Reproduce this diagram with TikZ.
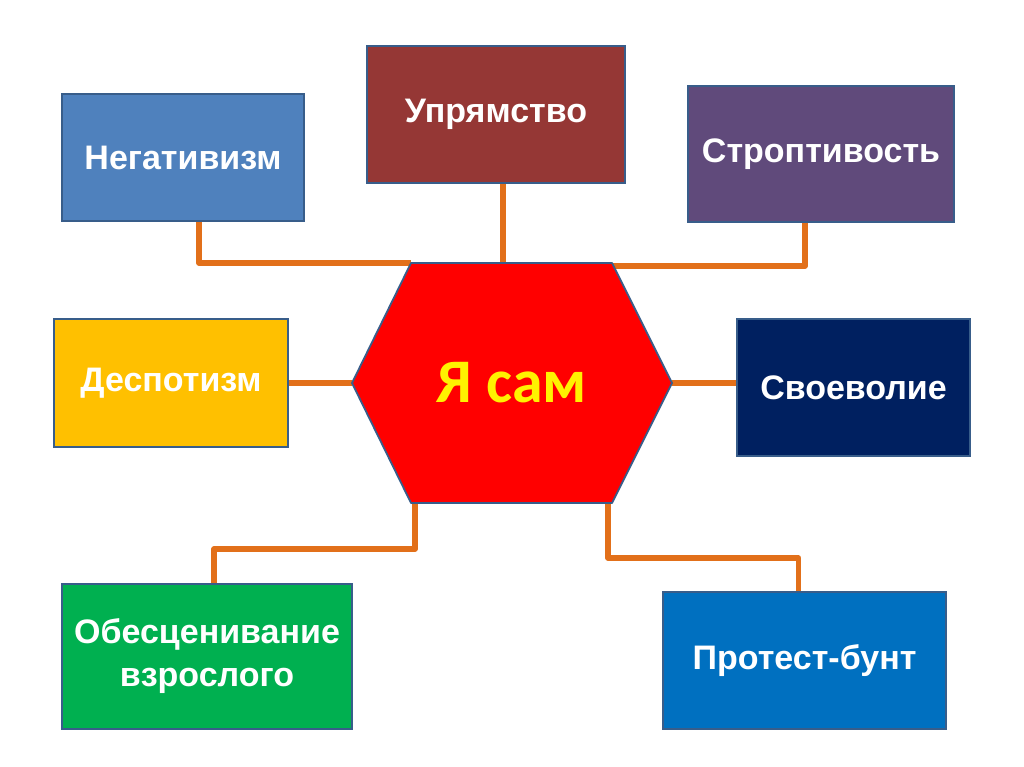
\documentclass[tikz,border=0pt]{standalone}
\usepackage{fontspec}
\setmainfont{Liberation Sans}
\newfontfamily\hexfont{Carlito}
\definecolor{negcol}{HTML}{4F81BD}
\definecolor{uprcol}{HTML}{953735}
\definecolor{stropcol}{HTML}{604A7B}
\definecolor{despcol}{HTML}{FFC000}
\definecolor{svoecol}{HTML}{002060}
\definecolor{obescol}{HTML}{00B050}
\definecolor{protcol}{HTML}{0070C0}
\definecolor{edgecol}{HTML}{385D8A}
\definecolor{linkcol}{HTML}{E2701A}
\begin{document}
\begin{tikzpicture}[x=1pt,y=-1pt,
		box/.style={draw=edgecol, line width=1.8pt, text=white, align=center,
			font=\fontsize{34}{43}\selectfont\bfseries, inner sep=0pt},
		link/.style={draw=linkcol, line width=5.5pt, line join=round}]
		\useasboundingbox (0,0) rectangle (1024,767);
		\coordinate (htl) at (411,263);
		\coordinate (htr) at (612,263);
		\coordinate (hr) at (672,383);
		\coordinate (hbr) at (612,503);
		\coordinate (hbl) at (411,503);
		\coordinate (hl) at (352,383);
		\node[box, fill=negcol, minimum width=242pt, minimum height=127pt] (neg) at (183,157.5) {Негативизм};
		\node[box, fill=uprcol, minimum width=258pt, minimum height=137pt] (upr) at (496,114.5) {Упрямство};
		\node[box, fill=stropcol, minimum width=266pt, minimum height=136pt] (strop) at (821,154) {Строптивость};
		\node[box, fill=despcol, minimum width=234pt, minimum height=128pt] (desp) at (171,383) {Деспотизм};
		\node[box, fill=svoecol, minimum width=233pt, minimum height=137pt] (svoe) at (853.5,387.5) {Своеволие};
		\node[box, fill=obescol, minimum width=290pt, minimum height=145pt] (obes) at (207,656.5) {Обесценивание\\взрослого};
		\node[box, fill=protcol, minimum width=283pt, minimum height=137pt] (prot) at (804.5,660.5) {Протест-бунт};
		\draw[link] ([xshift=16pt]neg.south) |- (htl);
		\draw[link] ([xshift=7pt]upr.south) -- ([xshift=7pt]upr.south |- htl);
		\draw[link] ([xshift=-16pt]strop.south) |- ([yshift=-3pt]htr);
		\draw[link] (desp.east |- hl) -- (hl);
		\draw[link] (hr) -- (hr -| svoe.west);
		\draw[link] ([xshift=4pt]hbl) -- ++(0,46) -| ([xshift=7pt]obes.north);
		\draw[link] ([xshift=-4pt]hbr) -- ++(0,55) -| ([xshift=-6pt]prot.north);
		\filldraw[fill=red, draw=edgecol, line width=1.8pt, line join=round]
			(htl) -- (htr) -- (hr) -- (hbr) -- (hbl) -- (hl) -- cycle;
		\node[text=yellow, font=\hexfont\fontsize{62}{62}\selectfont\bfseries] (me) at (512,383) {Я сам};
	\end{tikzpicture}
\end{document}
